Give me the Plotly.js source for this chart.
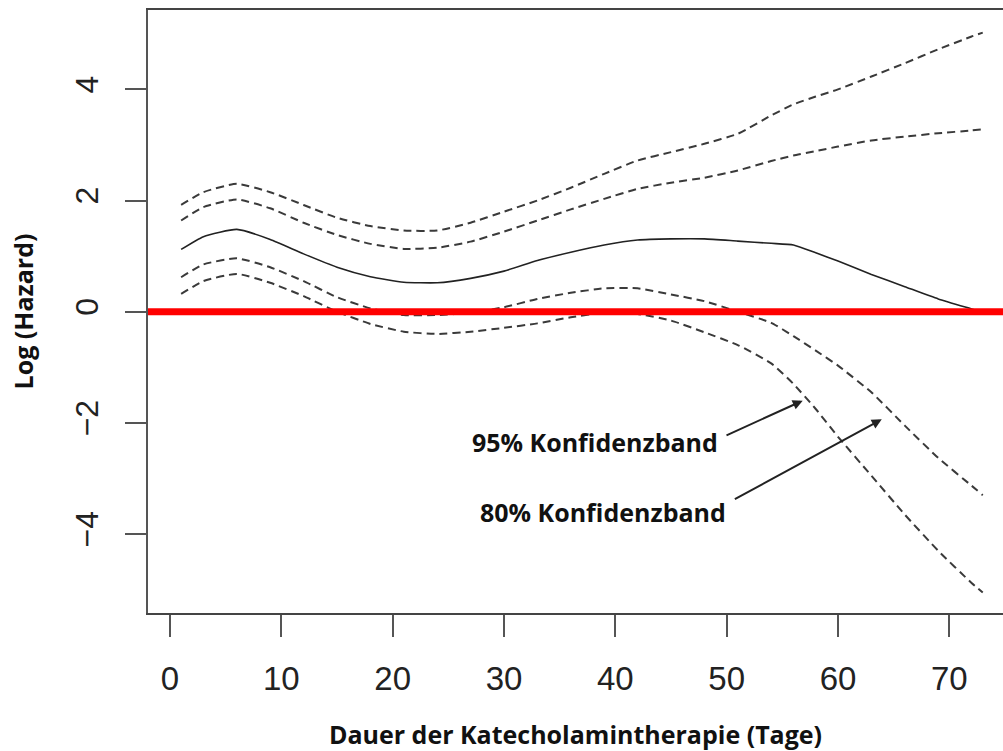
<!DOCTYPE html>
<html>
<head>
<meta charset="utf-8">
<script src="https://cdn.plot.ly/plotly-3.0.1.min.js"></script>
<style>html,body{margin:0;padding:0;background:#fff;}#chart{width:1003px;height:751px;}</style>
</head>
<body>
<div id="chart"></div>
<script>
// Duration of catecholamine therapy (days)
const days    = [1, 3, 6, 9, 12, 15, 18, 21, 24, 27, 30, 33, 36, 39, 42, 45, 48, 51, 54, 56, 58, 60, 63, 66, 69, 72, 73];
// Estimated log hazard
const fit     = [1.12, 1.35, 1.48, 1.30, 1.04, 0.80, 0.63, 0.53, 0.52, 0.60, 0.73, 0.92, 1.07, 1.20, 1.29, 1.31, 1.31, 1.27, 1.23, 1.20, 1.06, 0.91, 0.67, 0.45, 0.23, 0.05, -0.01];
// 95% confidence band
const upper95 = [1.92, 2.15, 2.30, 2.15, 1.92, 1.69, 1.54, 1.46, 1.46, 1.60, 1.80, 2.00, 2.23, 2.48, 2.72, 2.87, 3.02, 3.20, 3.53, 3.73, 3.87, 4.00, 4.23, 4.47, 4.72, 4.95, 5.02];
const lower95 = [0.32, 0.55, 0.68, 0.52, 0.28, 0.00, -0.22, -0.36, -0.40, -0.36, -0.29, -0.21, -0.10, -0.02, -0.04, -0.16, -0.37, -0.60, -0.93, -1.30, -1.75, -2.25, -2.95, -3.65, -4.30, -4.88, -5.05];
// 80% confidence band
const upper80 = [1.64, 1.88, 2.02, 1.86, 1.60, 1.38, 1.22, 1.13, 1.15, 1.26, 1.44, 1.64, 1.84, 2.03, 2.21, 2.32, 2.41, 2.54, 2.71, 2.81, 2.89, 2.97, 3.08, 3.15, 3.21, 3.26, 3.28];
const lower80 = [0.62, 0.85, 0.96, 0.80, 0.55, 0.26, 0.06, -0.06, -0.06, -0.02, 0.08, 0.23, 0.34, 0.42, 0.42, 0.31, 0.19, 0.00, -0.20, -0.44, -0.70, -0.97, -1.45, -2.05, -2.63, -3.13, -3.30];

const xTicks = [0, 10, 20, 30, 40, 50, 60, 70];
const yTicks = [-4, -2, 0, 2, 4];

const labelFont = {family: '"Open Sans", Lato, sans-serif', size: 25, color: '#111', weight: 700};
const dashStyle = {color: '#3a3a3a', width: 2, dash: '8px,5px', shape: 'spline', smoothing: 0.5};

const traces = [
  {x: days, y: upper95, mode: 'lines', line: dashStyle, name: '95% oben'},
  {x: days, y: upper80, mode: 'lines', line: dashStyle, name: '80% oben'},
  {x: days, y: lower80, mode: 'lines', line: dashStyle, name: '80% unten'},
  {x: days, y: lower95, mode: 'lines', line: dashStyle, name: '95% unten'},
  {x: days, y: fit, mode: 'lines', line: {color: '#222', width: 1.6, shape: 'spline', smoothing: 0.5}, name: 'Log (Hazard)'}
];

const layout = {
  width: 1003, height: 751,
  margin: {l: 148, r: 0, t: 10, b: 138, pad: 0},
  paper_bgcolor: '#fff', plot_bgcolor: '#fff',
  showlegend: false,
  xaxis: {
    range: [-1.976, 74.82], tickvals: xTicks, ticktext: xTicks.map(String),
    ticks: 'outside', ticklen: 22, tickwidth: 2, tickcolor: '#555',
    showline: true, mirror: true, linecolor: '#444', linewidth: 2,
    showgrid: false, zeroline: false,
    tickfont: {family: '"Liberation Sans", Arial, sans-serif', size: 33, color: '#222'},
    ticklabelstandoff: 13,
    title: {text: 'Dauer der Katecholamintherapie (Tage)', font: labelFont, standoff: 34}
  },
  yaxis: {
    range: [-5.42, 5.427], tickvals: yTicks,
    ticks: 'outside', ticklen: 21, tickwidth: 2, tickcolor: '#555',
    showline: true, mirror: false, linecolor: '#555', linewidth: 2,
    showgrid: false, zeroline: false, tickangle: -90,
    tickfont: {family: '"Liberation Sans", Arial, sans-serif', size: 32, color: '#222'},
    ticklabelstandoff: 14,
    title: {text: 'Log (Hazard)', font: labelFont, standoff: 28}
  },
  shapes: [
    {type: 'line', xref: 'paper', yref: 'y', x0: 0, x1: 1, y0: 0, y1: 0,
     line: {color: '#ff0000', width: 7}, layer: 'above'}
  ],
  annotations: [
    {x: 38.2, y: -2.34, xref: 'x', yref: 'y', text: '95% Konfidenzband', showarrow: false, font: labelFont},
    {x: 38.9, y: -3.60, xref: 'x', yref: 'y', text: '80% Konfidenzband', showarrow: false, font: labelFont},
    {x: 56.83, y: -1.60, ax: 49.85, ay: -2.236, xref: 'x', yref: 'y', axref: 'x', ayref: 'y',
     text: '', showarrow: true, arrowhead: 2, arrowsize: 1, arrowwidth: 2, arrowcolor: '#222'},
    {x: 63.93, y: -1.936, ax: 50.60, ay: -3.387, xref: 'x', yref: 'y', axref: 'x', ayref: 'y',
     text: '', showarrow: true, arrowhead: 2, arrowsize: 1, arrowwidth: 2, arrowcolor: '#222'}
  ]
};

Plotly.newPlot('chart', traces, layout, {staticPlot: true, displayModeBar: false});
</script>
</body>
</html>
